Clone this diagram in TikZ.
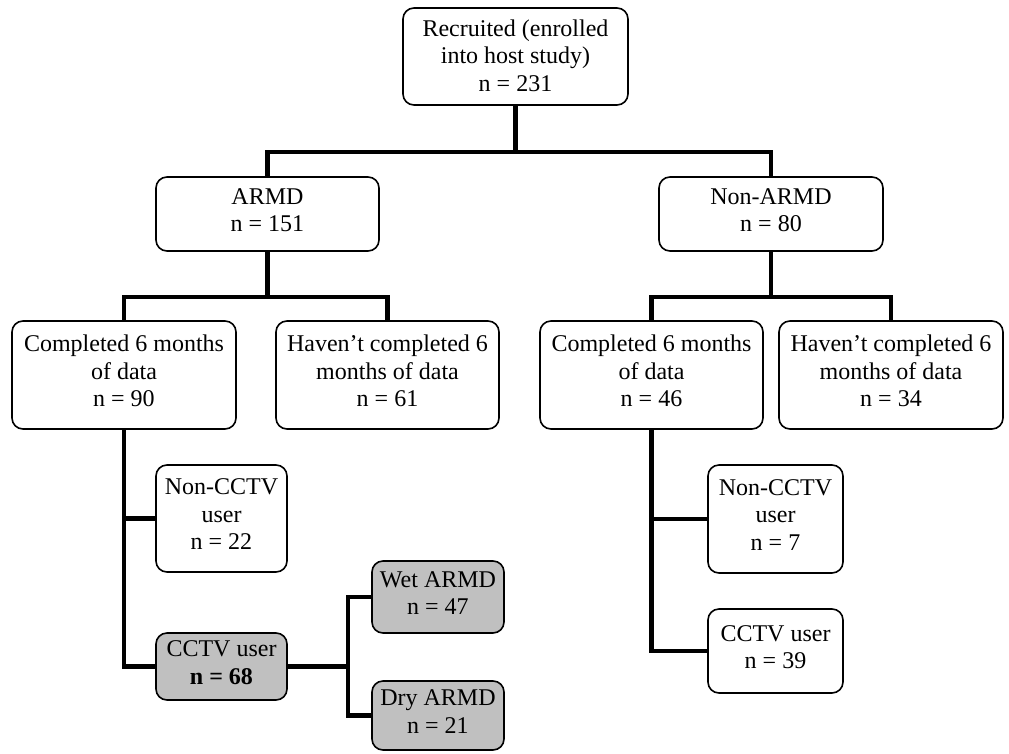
\documentclass[tikz,border=0pt]{standalone}
\usepackage{fontspec}
\setmainfont{Liberation Serif}
\definecolor{boxgray}{RGB}{192,192,192}
\begin{document}
\begin{tikzpicture}[x=1pt,y=-1pt,
  box/.style={draw, line width=1.6pt, rounded corners=11pt, fill=white, align=center,
    inner sep=0pt, text depth=8pt, font=\fontsize{24}{27.5}\selectfont},
  shaded/.style={box, fill=boxgray},
  conn/.style={line width=4.8pt, line join=miter}]
\useasboundingbox (0,0) rectangle (1009,753);
% nodes
\node[box, minimum width=225, minimum height=97, text depth=2pt] (top) at (515.5,56.5) {Recruited (enrolled\\into host study)\\n = 231};
\node[box, minimum width=223, minimum height=74] (armd) at (267.5,214) {ARMD\\n = 151};
\node[box, minimum width=224, minimum height=74] (narmd) at (771,214) {Non-ARMD\\n = 80};
\node[box, minimum width=224, minimum height=108] (c1) at (124,375) {Completed 6 months\\of data\\n = 90};
\node[box, minimum width=223, minimum height=108] (h1) at (387.5,375) {Haven’t completed 6\\months of data\\n = 61};
\node[box, minimum width=223, minimum height=108] (c2) at (651.5,375) {Completed 6 months\\of data\\n = 46};
\node[box, minimum width=224, minimum height=108] (h2) at (891,375) {Haven’t completed 6\\months of data\\n = 34};
\node[box, minimum width=131, minimum height=107] (nc1) at (221.5,518.5) {Non-CCTV\\user\\n = 22};
\node[shaded, minimum width=131, minimum height=67] (cc1) at (221.5,666.5) {CCTV user\\\textbf{n = 68}};
\node[shaded, minimum width=132, minimum height=72] (wet) at (438,597) {Wet ARMD\\n = 47};
\node[shaded, minimum width=132, minimum height=69] (dry) at (438,715.5) {Dry ARMD\\n = 21};
\node[box, minimum width=135, minimum height=108] (nc2) at (775.5,519) {Non-CCTV\\user\\n = 7};
\node[box, minimum width=135, minimum height=84] (cc2) at (775.5,651) {CCTV user\\n = 39};
% junction coordinates
\coordinate (j0) at (515.5,152);
\coordinate (j1) at (267.5,297);
\coordinate (j2) at (771,297);
\coordinate (j3) at (348,666.5);
% connectors
\draw[conn] (top.south) -- (j0);
\draw[conn] (armd.north) |- (j0) -| (narmd.north);
\draw[conn] (armd.south) -- (j1);
\draw[conn] (c1.north) |- (j1) -| (h1.north);
\draw[conn] (narmd.south) -- (j2);
\draw[conn] (c2.north) |- (j2) -| (h2.north);
\draw[conn] (c1.south) |- (cc1.west);
\draw[conn] (c1.south |- nc1.west) -- (nc1.west);
\draw[conn] (cc1.east) -- (j3);
\draw[conn] (wet.west) -| (j3) |- (dry.west);
\draw[conn] (c2.south) |- (cc2.west);
\draw[conn] (c2.south |- nc2.west) -- (nc2.west);
\end{tikzpicture}
\end{document}
